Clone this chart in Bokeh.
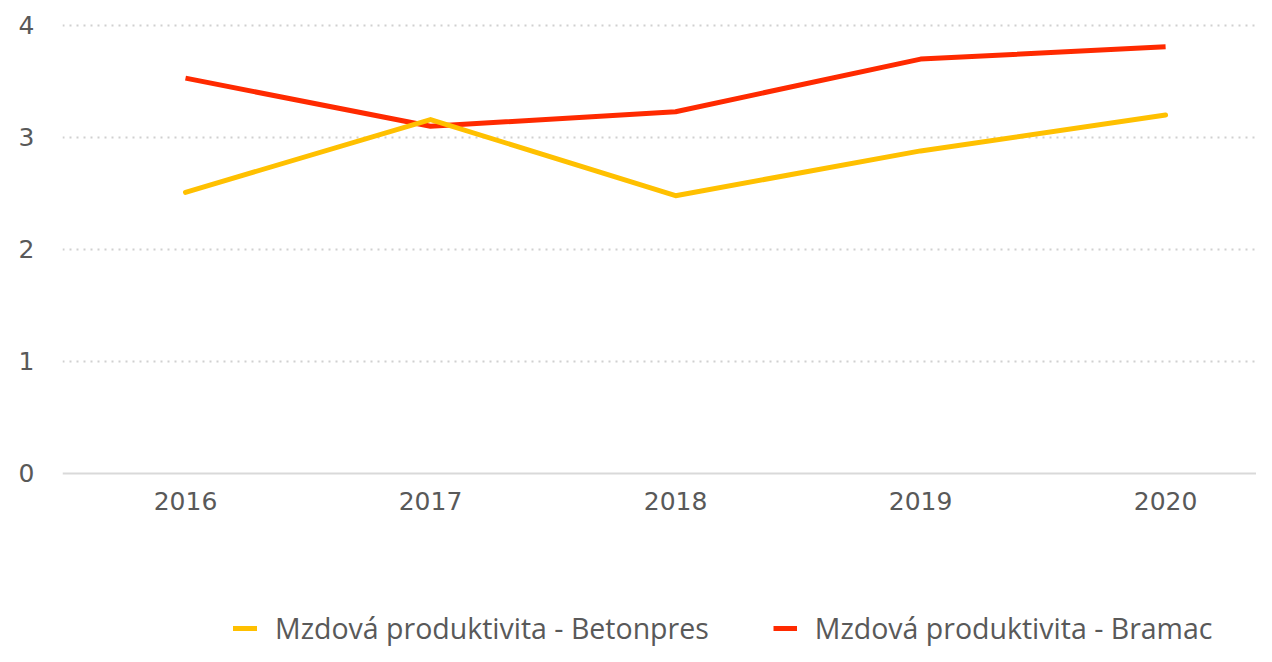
from bokeh.plotting import figure
from bokeh.models import Range1d, FixedTicker, Legend, LegendItem
from bokeh.embed import file_html
from bokeh.resources import INLINE

years = ["2016", "2017", "2018", "2019", "2020"]
betonpres = [2.51, 3.16, 2.48, 2.88, 3.20]
bramac = [3.53, 3.10, 3.23, 3.70, 3.81]
series_names = ["Mzdová produktivita - Betonpres", "Mzdová produktivita - Bramac"]

xs = list(range(len(years)))

p = figure(width=1256, height=646, output_backend="svg", toolbar_location=None,
           x_range=Range1d(-0.502, 4.371), y_range=Range1d(-1.545, 4.223),
           min_border_left=62, min_border_right=0, min_border_top=0, min_border_bottom=0)
p.outline_line_color = None
p.background_fill_color = "white"
p.border_fill_color = "white"

r_red = p.line(xs, bramac, line_color="#FF2A00", line_width=5, line_join="round")
r_yel = p.line(xs, betonpres, line_color="#FFC000", line_width=5, line_join="round", line_cap="round")

# axes
yax = p.yaxis[0]
yax.ticker = FixedTicker(ticks=[0, 1, 2, 3, 4])
yax.axis_line_color = None
yax.major_tick_line_color = None
yax.minor_tick_line_color = None
yax.major_label_text_font = "DejaVu Sans"
yax.major_label_text_font_size = "25px"
yax.major_label_text_color = "#595959"
yax.major_label_standoff = 22

xax = p.xaxis[0]
xax.ticker = FixedTicker(ticks=xs)
xax.major_label_overrides = {i: y for i, y in enumerate(years)}
xax.fixed_location = 0
xax.axis_line_color = "#D9D9D9"
xax.axis_line_width = 2
xax.major_tick_line_color = None
xax.minor_tick_line_color = None
xax.major_label_text_font = "DejaVu Sans"
xax.major_label_text_font_size = "25px"
xax.major_label_text_color = "#595959"
xax.major_label_standoff = 13

p.xgrid.grid_line_color = None
p.ygrid.ticker = FixedTicker(ticks=[1, 2, 3, 4])
p.ygrid.grid_line_color = "#D0D0D0"
p.ygrid.grid_line_width = 2
p.ygrid.grid_line_dash = "2 5"

legend = Legend(items=[LegendItem(label=series_names[0], renderers=[r_yel]),
                       LegendItem(label=series_names[1], renderers=[r_red])],
                orientation="horizontal", location=(171, -1))
legend.background_fill_alpha = 0
legend.border_line_color = None
legend.padding = 0
legend.margin = 0
legend.glyph_width = 24
legend.glyph_height = 30
legend.label_standoff = 18
legend.spacing = 64
legend.label_text_font = "Open Sans"
legend.label_text_font_size = "28.5px"
legend.label_text_color = "#595959"
legend.label_text_baseline = "middle"
p.add_layout(legend, "center")

open("out.html", "w").write(file_html(p, INLINE))
